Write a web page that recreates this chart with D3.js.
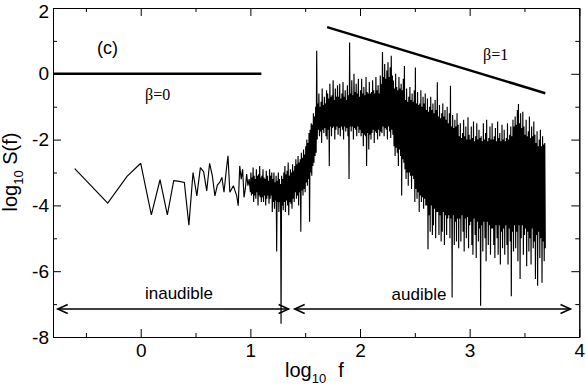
<!DOCTYPE html>
<html><head><meta charset="utf-8">
<script src="https://cdn.jsdelivr.net/npm/d3@7/dist/d3.min.js"></script>
<style>body{margin:0;background:#fff}</style>
</head><body><svg id="c" width="586" height="388"></svg>
<script>
// ---- data ----
// low-frequency part: harmonic index k (f = k * df), log10 S(f)
const freqStep = 0.25;
const lowK = [1,2,3,4,5,6,7,8,9,10,11,12,13,14,15,16,17,18,19,20,21,22,23,24,25,26,27,28,29,30,31,32,33,34,35,36,37,38,39,40];
const lowS = [-2.88,-3.93,-3.12,-2.72,-4.29,-3.22,-4.29,-3.25,-3.27,-3.30,-4.60,-3.00,-3.71,-2.85,-2.98,-3.56,-2.72,-3.10,-3.71,-3.38,
              -3.30,-3.15,-3.60,-3.00,-2.49,-3.60,-3.50,-3.40,-3.56,-3.70,-4.01,-2.80,-3.20,-2.90,-3.76,-3.50,-3.05,-3.40,-3.20,-3.60];
// dense part: columns of log10 f starting at 1.005, width 0.01; per column the upper and lower excursion of log10 S(f)
const denseStart = 1.005, denseStep = 0.01;
const denseHi = [
 -3.0,-3.15,-2.85,-3.1,-3.2,-2.9,-3.1,-3.05,-2.8,-3.15,
 -3.1,-2.9,-3.15,-3.2,-2.95,-3.1,-3.25,-2.9,-3.1,-3.0,
 -3.2,-3.0,-3.3,-3.1,-3.25,-3.0,-3.2,-3.35,-3.1,-3.2,
 -3.0,-2.8,-3.05,-2.95,-2.7,-3.1,-2.9,-3.0,-2.75,-2.95,
 -2.8,-2.6,-2.75,-2.5,-2.7,-2.6,-2.4,-2.55,-2.3,-2.45,
 -2.2,-2.0,-2.1,-1.8,-1.7,-1.5,-1.55,-1.2,-1.3,-1.0,
 0.7,-0.9,-0.6,-1.0,-0.85,-0.45,-0.95,-0.7,-0.9,-0.5,
 -0.6,-0.75,-0.3,-0.7,-0.65,-0.2,-0.8,-0.45,-0.7,-0.35,
 -0.7,-0.3,-0.75,-0.6,-0.25,-0.7,-0.5,-0.8,-0.35,-0.65,
 0.95,-0.6,-0.2,-0.65,0.0,-0.55,-0.3,-0.6,-0.15,-0.7,
 -0.5,-0.15,-0.6,-0.4,-0.65,-0.1,-0.55,-0.6,-0.25,-0.6,
 -0.55,-0.2,-0.5,-0.6,-0.1,-0.5,-0.35,-0.6,-0.05,-0.3,
 0.66,-0.1,0.3,-0.15,0.1,0.35,-0.1,0.2,0.55,-0.05,
 -0.2,-0.45,0.0,-0.4,-0.5,-0.1,-0.45,-0.3,-0.5,-0.15,
 0.24,-0.8,-0.45,-0.85,-0.7,-0.4,-0.8,-0.6,-0.85,-0.5,
 0.19,-0.9,-0.55,-0.95,-0.9,-0.5,-1.0,-0.7,-0.9,-0.6,
 -1.1,-0.75,-1.15,-1.0,-0.7,-1.1,-0.9,-1.2,-0.8,-1.1,
 -0.26,-1.3,-0.95,-1.35,-1.2,-0.9,-1.3,-1.1,-1.4,-1.0,
 -1.5,-1.2,-0.36,-1.6,-1.25,-1.65,-1.4,-1.6,-1.2,-1.55,
 -1.9,-1.5,-1.95,-1.8,-1.4,-1.9,-1.6,-2.0,-1.32,-1.85,
 -2.0,-1.6,-1.95,-1.45,-2.05,-1.9,-1.5,-2.0,-1.7,-1.95,
 -1.9,-2.05,-1.5,-2.0,-1.8,-1.4,-2.05,-1.95,-1.6,-2.0,
 -1.5,-2.0,-1.9,-1.65,-2.05,-1.45,-1.95,-1.8,-2.05,-1.55,
 -2.0,-1.7,-2.05,-1.95,-1.5,-2.0,-1.85,-1.6,-1.9,-1.4,
 -1.6,-1.3,-1.55,-1.1,-0.92,-1.5,-1.2,-1.65,-1.15,-1.6,
 -1.85,-1.4,-1.9,-1.75,-1.3,-1.95,-1.6,-1.9,-1.45,-1.85,
 -2.1,-1.75,-2.2,-2.0,-1.7,-2.2,-1.9,-2.15,-2.1
];
const denseLo = [
 -3.7,-3.65,-3.9,-3.7,-3.8,-3.6,-4.0,-3.7,-3.75,-3.9,
 -3.75,-3.9,-3.7,-4.0,-3.8,-3.7,-3.95,-3.8,-3.7,-4.2,
 -3.9,-4.1,-3.85,-5.4,-3.9,-4.2,-3.9,-7.6,-4.0,-4.15,
 -3.9,-4.2,-3.85,-4.0,-4.3,-3.9,-3.95,-4.1,-3.8,-3.9,
 -3.6,-3.8,-3.7,-4.0,-3.6,-4.8,-3.55,-3.7,-3.5,-3.6,
 -3.3,-3.4,-3.2,-4.5,-3.0,-3.1,-2.8,-2.7,-2.5,-2.4,
 -2.0,-1.7,-1.9,-1.75,-2.1,-1.7,-1.8,-1.65,-1.9,-2.0,
 -1.7,-2.8,-1.6,-1.9,-1.65,-1.6,-2.0,-1.7,-1.6,-1.85,
 -1.65,-1.9,-1.6,-1.7,-2.0,-1.6,-1.75,-1.65,-1.9,-3.2,
 -1.6,-1.75,-1.6,-2.0,-1.65,-1.7,-1.9,-1.6,-1.8,-1.7,
 -1.9,-1.8,-2.2,-1.85,-1.9,-2.8,-1.8,-2.3,-1.85,-2.0,
 -1.8,-1.7,-2.1,-1.75,-1.8,-2.0,-1.7,-1.9,-1.75,-1.8,
 -1.6,-1.9,-1.65,-1.7,-2.0,-1.6,-1.75,-1.95,-1.7,-1.85,
 -2.2,-2.5,-2.25,-2.4,-2.8,-2.3,-2.5,-3.7,-2.6,-2.7,
 -2.9,-3.2,-3.0,-3.4,-3.0,-3.1,-3.5,-3.1,-3.2,-3.9,
 -3.5,-3.8,-3.6,-4.2,-3.7,-3.9,-3.75,-4.1,-3.8,-4.0,
 -4.0,-5.33,-4.3,-4.8,-4.0,-4.9,-4.6,-4.1,-5.0,-4.2,
 -4.2,-4.9,-4.3,-5.1,-4.8,-4.2,-5.2,-4.3,-4.9,-4.4,
 -4.3,-5.0,-4.4,-6.8,-4.3,-5.2,-4.5,-5.1,-4.4,-5.3,
 -4.4,-5.1,-4.3,-4.8,-5.4,-4.4,-5.0,-4.35,-5.3,-4.6,
 -4.5,-5.2,-5.5,-4.4,-4.9,-5.6,-4.5,-5.1,-4.7,-7.05,
 -4.6,-5.4,-4.5,-5.0,-5.7,-4.5,-5.2,-4.6,-5.5,-4.7,
 -4.7,-5.2,-5.6,-4.6,-5.0,-5.5,-4.6,-5.8,-4.8,-5.3,
 -4.7,-5.5,-4.6,-5.2,-5.8,-4.7,-5.1,-6.76,-4.8,-5.4,
 -4.6,-5.3,-4.8,-5.7,-4.6,-6.24,-5.0,-4.6,-5.5,-4.9,
 -4.7,-5.85,-4.8,-5.4,-5.0,-5.8,-4.7,-5.3,-5.1,-6.24,
 -4.9,-6.44,-4.8,-5.6,-5.0,-6.35,-5.1,-5.7,-5.3
];
const xTicks = [0,1,2,3,4];
const xMinorTicks = [-0.5,0.5,1.5,2.5,3.5];
const yTicks = [-8,-6,-4,-2,0,2];
const yMinorTicks = [-7,-5,-3,-1,1];
// reference slopes
const beta0X = [-0.8, 1.1], beta0Y = [0, 0];
const beta1X = [1.7, 3.69], beta1Y = [1.42, -0.59];
// range arrows
const inaudX = [-0.757, 1.349], audX = [1.404, 3.92], arrowY = -7.15;

// ---- chart ----
const svg = d3.select("#c");
const L = 53, R = 579.3, T = 8, B = 337;
const x = d3.scaleLinear().domain([-0.8, 4]).range([L, R]);
const y = d3.scaleLinear().domain([-8, 2]).range([B, T]);
const font = "'Liberation Sans', Arial, Helvetica, sans-serif";
const serif = "'Liberation Serif', 'Times New Roman', serif";

function styleAxis(g){
  g.selectAll("path,line").attr("stroke","#000").attr("stroke-width",1);
  g.selectAll("text").attr("font-family",font).attr("font-size",19).attr("fill","#000");
}
// major axes
svg.append("g").attr("transform",`translate(0,${B})`)
  .call(d3.axisBottom(x).tickValues(xTicks).tickFormat(d3.format("d")).tickSizeInner(-8).tickSizeOuter(0).tickPadding(7))
  .call(styleAxis);
svg.append("g").attr("transform",`translate(0,${T})`)
  .call(d3.axisTop(x).tickValues(xTicks).tickFormat("").tickSizeInner(-8).tickSizeOuter(0))
  .call(styleAxis);
const yAx = svg.append("g").attr("transform",`translate(${L},0)`)
  .call(d3.axisLeft(y).tickValues(yTicks).tickFormat(d=>d<0?"-"+Math.abs(d):d).tickSizeInner(-8).tickSizeOuter(0).tickPadding(4))
  .call(styleAxis);
yAx.selectAll(".tick text").filter(d=>d===2).attr("dy","0.52em");
svg.append("g").attr("transform",`translate(${R},0)`)
  .call(d3.axisRight(y).tickValues(yTicks).tickFormat("").tickSizeInner(-8).tickSizeOuter(0))
  .call(styleAxis);
// minor ticks
svg.append("g").attr("transform",`translate(0,${B})`)
  .call(d3.axisBottom(x).tickValues(xMinorTicks).tickFormat("").tickSizeInner(-4).tickSizeOuter(0)).call(styleAxis);
svg.append("g").attr("transform",`translate(0,${T})`)
  .call(d3.axisTop(x).tickValues(xMinorTicks).tickFormat("").tickSizeInner(-4).tickSizeOuter(0)).call(styleAxis);
svg.append("g").attr("transform",`translate(${L},0)`)
  .call(d3.axisLeft(y).tickValues(yMinorTicks).tickFormat("").tickSizeInner(-4).tickSizeOuter(0)).call(styleAxis);
svg.append("g").attr("transform",`translate(${R},0)`)
  .call(d3.axisRight(y).tickValues(yMinorTicks).tickFormat("").tickSizeInner(-4).tickSizeOuter(0)).call(styleAxis);

// spectrum
const pts = lowK.map((k,i)=>[Math.log10(k*freqStep), lowS[i]]);
denseHi.forEach((h,c)=>{
  const xc = denseStart + c*denseStep;
  pts.push([xc, h]);
  pts.push([xc + denseStep/2, denseLo[c]]);
});
const line = d3.line().x(d=>x(d[0])).y(d=>y(d[1]));
svg.append("path").datum(pts).attr("d",line).attr("fill","none")
  .attr("stroke","#000").attr("stroke-width",1.15).attr("stroke-linejoin","miter").attr("stroke-miterlimit",2);

// reference lines
svg.append("path").datum(beta0X.map((v,i)=>[v,beta0Y[i]])).attr("d",line)
  .attr("stroke","#000").attr("stroke-width",2.5).attr("fill","none");
svg.append("path").datum(beta1X.map((v,i)=>[v,beta1Y[i]])).attr("d",line)
  .attr("stroke","#000").attr("stroke-width",2.5).attr("fill","none");

// arrows
function arrow(xs){
  const x0 = x(xs[0]), x1 = x(xs[1]), yy = y(arrowY);
  svg.append("line").attr("x1",x0).attr("x2",x1).attr("y1",yy).attr("y2",yy).attr("stroke","#000").attr("stroke-width",1.5);
  const h = 10, w = 4.5;
  svg.append("path").attr("d",`M${x0+h},${yy-w}L${x0},${yy}L${x0+h},${yy+w}`).attr("fill","none").attr("stroke","#000").attr("stroke-width",1.5);
  svg.append("path").attr("d",`M${x1-h},${yy-w}L${x1},${yy}L${x1-h},${yy+w}`).attr("fill","none").attr("stroke","#000").attr("stroke-width",1.5);
}
arrow(inaudX); arrow(audX);

// texts
function txt(px,py,s,size,fam,anchor){
  return svg.append("text").attr("x",px).attr("y",py).attr("font-size",size)
    .attr("font-family",fam).attr("text-anchor",anchor||"start").attr("fill","#000").text(s);
}
txt(179,299,"inaudible",17,font,"middle");
txt(419,300,"audible",17,font,"middle");
txt(97,54,"(c)",18,font);
txt(145,100,"β=0",16,serif);
txt(483,60,"β=1",16,serif);

// axis titles
const xt = svg.append("text").attr("x",285).attr("y",377).attr("font-family",font).attr("font-size",20).attr("fill","#000");
xt.append("tspan").text("log");
xt.append("tspan").attr("font-size",13).attr("dy",6).text("10");
xt.append("tspan").attr("dy",-6).attr("dx",12).text("f");

const yt = svg.append("text").attr("transform","translate(17,172) rotate(-90)").attr("text-anchor","middle")
  .attr("font-family",font).attr("font-size",20).attr("fill","#000");
yt.append("tspan").text("log");
yt.append("tspan").attr("font-size",13).attr("dy",6).text("10");
yt.append("tspan").attr("dy",-6).text(" S(f)");
</script></body></html>
